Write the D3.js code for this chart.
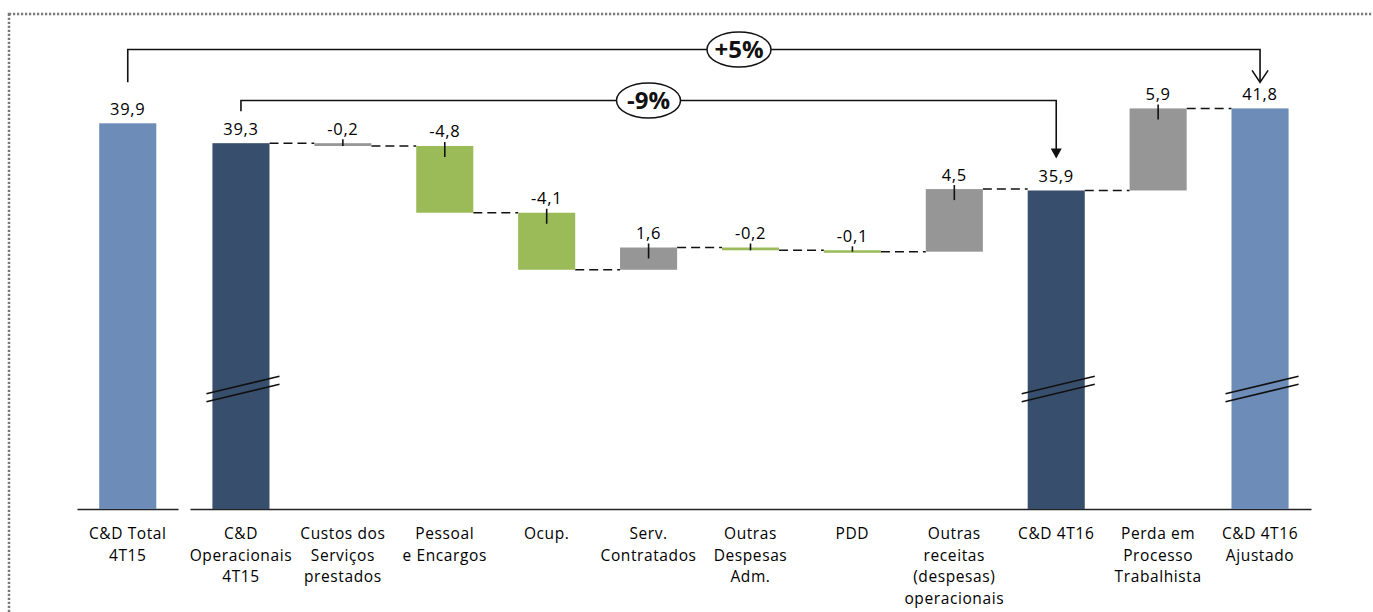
<!DOCTYPE html>
<html>
<head>
<meta charset="utf-8">
<script src="https://cdn.jsdelivr.net/npm/d3@7"></script>
<style>
  body { margin: 0; background: #fff; }
  text { font-family: 'Open Sans', 'Noto Sans', sans-serif; fill: #000; }
</style>
</head>
<body>
<div id="chart"></div>
<script>
// Chart data
const categories = [
  ['C&D Total', '4T15'],
  ['C&D', 'Operacionais', '4T15'],
  ['Custos dos', 'Serviços', 'prestados'],
  ['Pessoal', 'e Encargos'],
  ['Ocup.'],
  ['Serv.', 'Contratados'],
  ['Outras', 'Despesas', 'Adm.'],
  ['PDD'],
  ['Outras', 'receitas', '(despesas)', 'operacionais'],
  ['C&D 4T16'],
  ['Perda em', 'Processo', 'Trabalhista'],
  ['C&D 4T16', 'Ajustado']
];
const values = [39.9, 39.3, -0.2, -4.8, -4.1, 1.6, -0.2, -0.1, 4.5, 35.9, 5.9, 41.8];
// 'base' = reference totals, 'total' = operational totals, 'other'/'saving' = variations
const kinds = ['base', 'total', 'other', 'saving', 'saving', 'other', 'saving', 'saving', 'other', 'total', 'other', 'base'];
const comparisons = [
  {from: 0, to: 11, label: '+5%'},
  {from: 1, to: 9, label: '-9%'}
];

const width = 1373;
const height = 612;
const baseY = 509;
const fontSize = '15.5px';

const colors = {
  base: '#6d8cb8',
  total: '#384e6d',
  other: '#969696',
  saving: '#9bbb59'
};

const svg = d3.select('#chart')
  .append('svg')
  .attr('width', width)
  .attr('height', height);

// Dotted frame
svg.append('rect')
  .attr('x', 9)
  .attr('y', 14)
  .attr('width', width + 20)
  .attr('height', height + 20)
  .attr('fill', 'none')
  .attr('stroke', '#7a7a7a')
  .attr('stroke-width', 2.5)
  .attr('stroke-dasharray', '2.2,1.8');

// Build waterfall rows
let running = 0;
const rows = values.map((v, i) => {
  const kind = kinds[i];
  let start, end;
  if (kind === 'base' || kind === 'total') {
    start = null; end = v; running = v;
  } else {
    start = running; end = running + v; running = end;
  }
  return {i, kind, value: v, start, end, lines: categories[i]};
});

// Left panel (previous total) and main panel (broken axis)
const xLeft = d3.scaleBand()
  .domain([0])
  .range([77, 178])
  .paddingInner(0.44)
  .paddingOuter(0.22);

const xMain = d3.scaleBand()
  .domain(d3.range(1, values.length))
  .range([190, 1311])
  .paddingInner(0.44)
  .paddingOuter(0.22);

const yLeft = d3.scaleLinear().domain([0, 48]).range([baseY, 45]);
const yMain = d3.scaleLinear().domain([13, 46]).range([baseY, 50]);

const xPos = d => d.i === 0 ? xLeft(0) : xMain(d.i);
const bw = xMain.bandwidth();
const yOf = d => d.i === 0 ? yLeft : yMain;

rows.forEach(d => {
  const y = yOf(d);
  if (d.start === null) {
    d.top = y(d.end);
    d.bottom = baseY;
  } else {
    d.top = y(Math.max(d.start, d.end));
    d.bottom = y(Math.min(d.start, d.end));
  }
  d.x = xPos(d);
  d.cx = d.x + bw / 2;
});

// Axis lines
svg.append('g')
  .attr('transform', `translate(0, ${baseY})`)
  .call(d3.axisBottom(xLeft).tickSize(0).tickSizeOuter(0).tickFormat(''))
  .select('.domain')
  .attr('stroke', '#222')
  .attr('stroke-width', 1.5);

svg.append('g')
  .attr('transform', `translate(0, ${baseY})`)
  .call(d3.axisBottom(xMain).tickSize(0).tickSizeOuter(0).tickFormat(''))
  .select('.domain')
  .attr('stroke', '#222')
  .attr('stroke-width', 1.5);

// Connectors between bars
const connectors = [];
for (let k = 1; k < rows.length - 1; k++) {
  connectors.push({x1: rows[k].x + bw, x2: rows[k + 1].x, y: yMain(rows[k].end)});
}
svg.selectAll('.connector')
  .data(connectors)
  .enter()
  .append('line')
  .attr('class', 'connector')
  .attr('x1', d => d.x1)
  .attr('x2', d => d.x2)
  .attr('y1', d => d.y)
  .attr('y2', d => d.y)
  .attr('stroke', '#111')
  .attr('stroke-width', 1.5)
  .attr('stroke-dasharray', '9,5');

// Bars
svg.selectAll('.bar')
  .data(rows)
  .enter()
  .append('rect')
  .attr('class', 'bar')
  .attr('x', d => d.x)
  .attr('y', d => d.top)
  .attr('width', bw)
  .attr('height', d => Math.max(2.5, d.bottom - d.top))
  .attr('fill', d => colors[d.kind]);

// Small marks on the variation bars
svg.selectAll('.mark')
  .data(rows.filter(d => d.start !== null))
  .enter()
  .append('line')
  .attr('class', 'mark')
  .attr('x1', d => d.cx)
  .attr('x2', d => d.cx)
  .attr('y1', d => d.top - 4)
  .attr('y2', d => Math.max(d.top + 1, Math.min(d.top + 11, d.bottom)))
  .attr('stroke', '#111')
  .attr('stroke-width', 1.6);

// Axis break marks on the total bars
const breakY = 389;
const breaks = rows.filter(d => d.i !== 0 && d.start === null);
[-4, 4].forEach(off => {
  svg.selectAll(null)
    .data(breaks)
    .enter()
    .append('line')
    .attr('x1', d => d.x - 6)
    .attr('x2', d => d.x + bw + 10)
    .attr('y1', d => breakY + off + 8.7)
    .attr('y2', d => breakY + off - 8.7)
    .attr('stroke', '#111')
    .attr('stroke-width', 1.5);
});

// Value labels (comma decimal, plain hyphen for negatives)
const fmt = v => v.toFixed(1).replace('.', ',');
svg.selectAll('.value')
  .data(rows)
  .enter()
  .append('text')
  .attr('class', 'value')
  .attr('x', d => d.cx)
  .attr('y', d => d.top - 8.5)
  .attr('text-anchor', 'middle')
  .style('font-size', '16.5px')
  .style('letter-spacing', '0.7px')
  .text(d => fmt(d.value));

// Category labels
const labels = svg.selectAll('.label')
  .data(rows)
  .enter()
  .append('text')
  .attr('class', 'label')
  .attr('text-anchor', 'middle')
  .style('font-size', fontSize)
  .style('letter-spacing', '0.6px');

labels.selectAll('tspan')
  .data(d => d.lines.map(l => ({l, cx: d.cx})))
  .enter()
  .append('tspan')
  .attr('x', d => d.cx)
  .attr('y', (d, j) => 539 + j * 21.7)
  .text(d => d.l);

// Comparison brackets
const bracketY = [49.5, 100.5];
comparisons.forEach((c, k) => {
  const a = rows[c.from];
  const b = rows[c.to];
  const yLine = bracketY[k];
  const startY = k === 0 ? a.top - 41 : a.top - 32;
  const tipY = k === 0 ? b.top - 26 : b.top - 32;

  svg.append('path')
    .attr('d', `M${a.cx},${startY} V${yLine} H${b.cx} V${tipY - (k === 0 ? 1 : 8)}`)
    .attr('fill', 'none')
    .attr('stroke', '#111')
    .attr('stroke-width', 1.6);

  if (k === 0) {
    // open arrowhead
    svg.append('path')
      .attr('d', `M${b.cx - 8},${tipY - 12} L${b.cx},${tipY} L${b.cx + 8},${tipY - 12}`)
      .attr('fill', 'none')
      .attr('stroke', '#111')
      .attr('stroke-width', 1.6);
  } else {
    // filled arrowhead
    svg.append('path')
      .attr('d', `M${b.cx - 5.5},${tipY - 10} L${b.cx},${tipY} L${b.cx + 5.5},${tipY - 10} Z`)
      .attr('fill', '#111');
  }

  const ex = k === 0 ? 739 : 648.5;
  svg.append('ellipse')
    .attr('cx', ex)
    .attr('cy', yLine)
    .attr('rx', 32)
    .attr('ry', 17.5)
    .attr('fill', '#fff')
    .attr('stroke', '#111')
    .attr('stroke-width', 1.5);

  svg.append('text')
    .attr('x', ex)
    .attr('y', yLine + 8.5)
    .attr('text-anchor', 'middle')
    .style('font-size', '24px')
    .style('font-weight', 'bold')
    .style('fill', '#111')
    .text(c.label);
});
</script>
</body>
</html>
